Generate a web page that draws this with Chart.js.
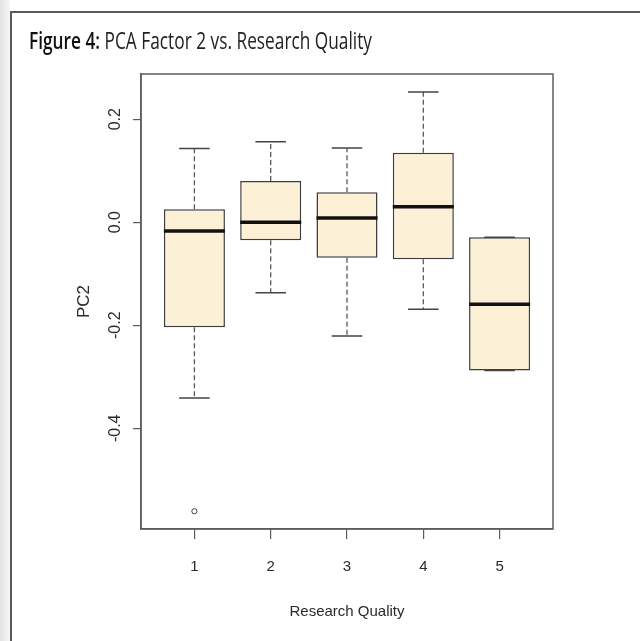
<!DOCTYPE html>
<html>
<head>
<meta charset="utf-8">
<title>PCA Factor 2 vs. Research Quality</title>
<script src="https://cdn.jsdelivr.net/npm/chart.js@4/dist/chart.umd.min.js"></script>
<style>
  html, body { margin: 0; padding: 0; background: #ffffff; }
  canvas { display: block; }
</style>
</head>
<body>
<canvas id="chart" width="640" height="641"></canvas>
<script>
// Research quality groups (x positions) and their box-plot summaries of PC2
const categories = [1, 2, 3, 4, 5];
const xTickLabels = ['1', '2', '3', '4', '5'];
const whiskerLow  = [-0.341, -0.137, -0.221, -0.169, -0.288];
const quartile1   = [-0.204, -0.035, -0.069, -0.072, -0.288];
const medians     = [-0.017,  0.000,  0.008,  0.030, -0.159];
const quartile3   = [ 0.025,  0.080,  0.058,  0.135, -0.029];
const whiskerHigh = [ 0.143,  0.156,  0.144,  0.253, -0.029];
const outlierGroups = [1];
const outlierValues = [-0.561];
const yTickValues = [-0.4, -0.2, 0.0, 0.2];
const yTickLabels = ['-0.4', '-0.2', '0.0', '0.2'];

const BOX_FILL = '#FCF1D6';
const BOX_EDGE = '#3c3c3c';
const AXIS_GRAY = '#5c5c5c';
const LABEL_COLOR = '#2a2a2a';

// Page frame, figure caption and the plot box
const framePlugin = {
  id: 'frame',
  beforeDraw(chart) {
    const ctx = chart.ctx;
    ctx.save();
    ctx.fillStyle = '#ffffff';
    ctx.fillRect(0, 0, chart.width, chart.height);
    const g = ctx.createLinearGradient(0, 0, 10, 0);
    g.addColorStop(0, '#e3e3e3');
    g.addColorStop(1, '#f7f7f7');
    ctx.fillStyle = g;
    ctx.fillRect(0, 0, 10, chart.height);
    ctx.strokeStyle = '#5a5a5a';
    ctx.lineWidth = 2;
    ctx.beginPath();
    ctx.moveTo(11, chart.height);
    ctx.lineTo(11, 12);
    ctx.lineTo(chart.width, 12);
    ctx.stroke();
    ctx.restore();
  },
  afterDraw(chart) {
    const ctx = chart.ctx;
    const area = chart.chartArea;
    ctx.save();
    // plot box
    ctx.strokeStyle = AXIS_GRAY;
    ctx.lineWidth = 1.5;
    ctx.strokeRect(area.left, area.top, area.right - area.left, area.bottom - area.top);

    // caption: bold label followed by regular text
    const boldPart = 'Figure 4:';
    const restPart = ' PCA Factor 2 vs. Research Quality';
    const boldFont = '600 23px "Open Sans"';
    const regFont = '23px "Open Sans"';
    ctx.font = boldFont;
    const w1 = ctx.measureText(boldPart).width;
    ctx.font = regFont;
    const w2 = ctx.measureText(restPart).width;
    const sx = 343 / (w1 + w2);
    ctx.translate(29, 49);
    ctx.scale(sx, 1);
    ctx.textBaseline = 'alphabetic';
    ctx.textAlign = 'left';
    ctx.fillStyle = '#111111';
    ctx.font = boldFont;
    ctx.fillText(boldPart, 0, 0);
    ctx.fillStyle = '#222222';
    ctx.font = regFont;
    ctx.fillText(restPart, w1, 0);
    ctx.restore();

    // rotated y tick labels
    const yScale = chart.scales.y;
    ctx.save();
    ctx.fillStyle = LABEL_COLOR;
    ctx.font = '16px "Liberation Sans"';
    ctx.textAlign = 'center';
    ctx.textBaseline = 'middle';
    yTickValues.forEach((v, i) => {
      const py = yScale.getPixelForValue(v);
      ctx.save();
      ctx.translate(area.left - 25, py);
      ctx.rotate(-Math.PI / 2);
      ctx.fillText(yTickLabels[i], 0, 0);
      ctx.restore();
    });
    ctx.restore();
  }
};

// Medians, dashed whiskers and staples drawn on top of the boxes
const boxDetailPlugin = {
  id: 'boxDetail',
  afterDatasetsDraw(chart) {
    const ctx = chart.ctx;
    const yScale = chart.scales.y;
    const bars = chart.getDatasetMeta(0).data;
    ctx.save();
    bars.forEach((bar, i) => {
      const half = bar.width / 2;
      const cx = bar.x;
      const yq1 = yScale.getPixelForValue(quartile1[i]);
      const yq3 = yScale.getPixelForValue(quartile3[i]);
      const ylo = yScale.getPixelForValue(whiskerLow[i]);
      const yhi = yScale.getPixelForValue(whiskerHigh[i]);
      const ymed = yScale.getPixelForValue(medians[i]);

      ctx.strokeStyle = '#5a5a5a';
      ctx.lineWidth = 1.3;
      ctx.setLineDash([5, 3]);
      ctx.beginPath();
      ctx.moveTo(cx, yq3); ctx.lineTo(cx, yhi);
      ctx.moveTo(cx, yq1); ctx.lineTo(cx, ylo);
      ctx.stroke();

      ctx.setLineDash([]);
      ctx.strokeStyle = '#444444';
      ctx.lineWidth = 1.5;
      ctx.beginPath();
      ctx.moveTo(cx - half / 2, yhi); ctx.lineTo(cx + half / 2, yhi);
      ctx.moveTo(cx - half / 2, ylo); ctx.lineTo(cx + half / 2, ylo);
      ctx.stroke();

      ctx.strokeStyle = '#111111';
      ctx.lineWidth = 3.5;
      ctx.beginPath();
      ctx.moveTo(cx - half, ymed); ctx.lineTo(cx + half, ymed);
      ctx.stroke();
    });
    ctx.restore();
  }
};

new Chart(document.getElementById('chart'), {
  data: {
    datasets: [
      {
        type: 'bar',
        data: categories.map((c, i) => ({ x: c, y: [quartile1[i], quartile3[i]] })),
        backgroundColor: BOX_FILL,
        borderColor: BOX_EDGE,
        borderWidth: 1.5,
        borderSkipped: false,
        barPercentage: 0.8,
        categoryPercentage: 1,
        grouped: false
      },
      {
        type: 'scatter',
        data: outlierGroups.map((g, i) => ({ x: g, y: outlierValues[i] })),
        pointRadius: 2.6,
        pointBackgroundColor: '#ffffff',
        pointBorderColor: '#444444',
        pointBorderWidth: 1
      }
    ]
  },
  options: {
    responsive: false,
    devicePixelRatio: 1,
    animation: false,
    layout: { padding: { left: 0, top: 74, right: 87, bottom: 0 } },
    plugins: {
      legend: { display: false },
      tooltip: { enabled: false },
      title: { display: false }
    },
    scales: {
      x: {
        type: 'linear',
        min: 0.3,
        max: 5.7,
        offset: false,
        afterBuildTicks(scale) { scale.ticks = categories.map(v => ({ value: v })); },
        afterFit(scale) { scale.height = 112; },
        grid: { display: true, offset: false, drawOnChartArea: false, drawTicks: true, tickLength: 10, color: AXIS_GRAY, lineWidth: 1.2 },
        border: { display: true, color: AXIS_GRAY, width: 1.5 },
        ticks: {
          padding: 19,
          color: LABEL_COLOR,
          font: { family: 'Liberation Sans', size: 15 },
          callback: (v, i) => xTickLabels[i]
        },
        title: {
          display: true,
          text: 'Research Quality',
          color: LABEL_COLOR,
          font: { family: 'Liberation Sans', size: 15 },
          padding: { top: 0, bottom: 20 }
        }
      },
      y: {
        type: 'linear',
        min: -0.5955,
        max: 0.2877,
        afterBuildTicks(scale) { scale.ticks = yTickValues.map(v => ({ value: v })); },
        afterFit(scale) { scale.width = 141; },
        grid: { display: true, drawOnChartArea: false, drawTicks: true, tickLength: 8, color: AXIS_GRAY, lineWidth: 1.2 },
        border: { display: true, color: AXIS_GRAY, width: 1.5 },
        ticks: { display: false },
        title: {
          display: true,
          text: 'PC2',
          color: LABEL_COLOR,
          font: { family: 'Liberation Sans', size: 17 },
          padding: { top: 74, bottom: 0 }
        }
      }
    }
  },
  plugins: [framePlugin, boxDetailPlugin]
});
</script>
</body>
</html>
